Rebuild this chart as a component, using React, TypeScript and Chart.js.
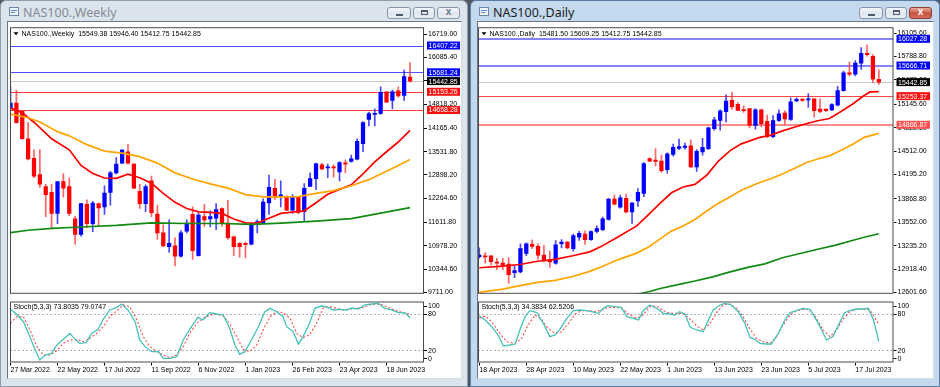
import React, { useEffect, useRef } from 'react';
import { Chart, registerables } from 'chart.js';

Chart.register(...registerables);

const FONT = "'Liberation Sans', Arial, sans-serif";
Chart.defaults.font.family = FONT;
Chart.defaults.font.size = 7;

// ---------------- Weekly data ----------------
const weeklyHeader = 'NAS100.,Weekly  15549.38 15946.40 15412.75 15442.85';
const weeklyStochHeader = 'Stoch(5,3,3) 73.8035 79.0747';
const weeklyOpen = [14714, 14846, 14626, 13879, 13351, 12911, 12586, 12428, 11856, 12718, 12586, 11707, 11285, 12102, 11575, 12120, 12032, 12428, 12955, 13219, 13527, 13193, 12454, 12120, 12736, 11839, 11329, 10951, 10977, 10696, 11372, 11830, 10713, 11768, 11707, 11724, 11988, 11593, 11223, 11047, 11047, 11021, 11548, 11593, 12137, 12533, 12322, 12322, 11944, 12296, 11900, 12586, 12797, 13175, 13087, 13114, 12982, 13219, 13263, 13325, 13747, 14406, 14538, 14564, 15154, 14916, 15180, 15057, 15549.38];
const weeklyHigh = [15285, 15198, 14652, 14318, 13588, 13588, 12647, 12647, 12718, 12938, 12823, 11786, 12120, 12226, 12181, 12137, 12604, 12999, 13369, 13588, 13729, 13210, 12647, 12630, 12867, 12076, 11548, 11681, 11197, 11390, 11681, 12032, 11856, 12102, 11926, 12120, 12006, 12208, 11241, 11065, 11082, 11593, 11681, 12252, 12894, 12779, 12736, 12340, 12366, 12313, 12665, 12955, 13219, 13219, 13193, 13175, 13263, 13307, 13439, 13879, 14345, 14600, 14688, 15285, 15154, 15198, 15285, 15743, 15946.4];
const weeklyLow = [14652, 14301, 13861, 13307, 12823, 12560, 11768, 11460, 11575, 12296, 11795, 11021, 11241, 11460, 11364, 11504, 11830, 12076, 12929, 13202, 13193, 12524, 11988, 11900, 11768, 11153, 10951, 10801, 10432, 10669, 11329, 10608, 10696, 11504, 11487, 11417, 11504, 11153, 10713, 10669, 10651, 11003, 11329, 11575, 11830, 12234, 12032, 11927, 11856, 11839, 11654, 12586, 12498, 13043, 12823, 12841, 12736, 12955, 13245, 13307, 13527, 14230, 14230, 14538, 14863, 14688, 15004, 14916, 15412.75];
const weeklyClose = [14846, 14318, 13879, 13333, 12867, 12647, 12366, 11856, 12718, 12542, 11856, 11285, 12120, 11575, 12137, 12006, 12410, 12955, 13193, 13571, 13219, 12542, 12120, 12586, 11874, 11329, 10977, 11047, 10696, 11329, 11593, 10845, 11812, 11681, 11768, 11962, 11593, 11197, 10951, 10951, 11012, 11548, 11636, 12164, 12560, 12296, 12357, 11944, 12322, 11883, 12533, 12797, 13202, 13061, 13114, 13087, 13237, 13193, 13333, 13808, 14318, 14564, 14564, 15136, 14872, 15154, 15039, 15567, 15442.85];
// moving averages as [bar index, value]
const weeklyMaFast: [number, number][] = [[0, 14714], [2, 14582], [4, 14327], [7, 13879], [10, 13580], [12, 13157], [14, 12938], [16, 12815], [18, 12806], [20, 12920], [22, 12823], [24, 12674], [26, 12401], [28, 12155], [30, 11988], [32, 11900], [34, 11882], [36, 11856], [38, 11706], [40, 11601], [42, 11592], [44, 11724], [46, 11856], [48, 11891], [50, 11926], [52, 12146], [54, 12375], [56, 12507], [58, 12630], [60, 12929], [62, 13254], [64, 13527], [66, 13791], [68, 14107]];
const weeklyMaMid: [number, number][] = [[0, 14547], [3, 14450], [5, 14336], [8, 14072], [10, 13958], [13, 13720], [16, 13544], [19, 13492], [22, 13395], [25, 13219], [28, 12955], [31, 12788], [34, 12656], [37, 12542], [40, 12366], [43, 12305], [46, 12305], [49, 12313], [52, 12401], [55, 12472], [58, 12604], [61, 12771], [64, 13000], [66, 13157], [68, 13316]];
const weeklyMaSlow: [number, number][] = [[0, 11337], [3, 11399], [7, 11452], [12, 11487], [18, 11531], [24, 11601], [30, 11583], [36, 11583], [41, 11557], [46, 11592], [52, 11645], [58, 11715], [63, 11865], [68, 12014]];
const weeklyBlueLevels = [16407.22, 15681.24];
const weeklyRedLevels = [15153.26, 14658.28];
const weeklyBid = 15442.85;
const weeklyPriceTicks = [16719.0, 16085.4, 15451.8, 14818.2, 14165.4, 13531.8, 12898.2, 12264.6, 11611.8, 10978.2, 10344.6, 9711.0];
const weeklyStochMain: [number, number][] = [[0, 87.2], [1, 79.5], [2.2, 66.9], [3.3, 42.4], [4.2, 20.5], [5, 4.1], [5.9, 12.3], [7, 15], [7.9, 28.7], [9, 38], [10.1, 47.8], [11, 38], [11.8, 31.4], [12.9, 32.5], [13.8, 47.8], [14.9, 54.4], [15.8, 70.8], [16.9, 86.1], [18.1, 90.4], [18.9, 95.9], [20, 86.1], [21.2, 67], [22, 36.9], [22.9, 26], [24, 17.8], [25.2, 17.8], [26, 6.8], [27.1, 6.8], [28.3, 9.6], [29.4, 36.9], [30.8, 58.7], [31.9, 74], [32.8, 69.7], [33.9, 81.7], [35.1, 79.5], [36.2, 77.9], [37.3, 56], [38.2, 28.7], [39, 13.4], [39.9, 17.8], [41, 36.9], [42.2, 58.7], [43.3, 83.3], [44.2, 88.8], [45.3, 83.3], [46.4, 75.1], [47, 58.7], [48.1, 50.5], [49, 30.3], [49.8, 42.4], [50.9, 64.2], [51.8, 88.8], [52.9, 92.6], [54.1, 90.4], [54.9, 86.1], [56.1, 87.2], [57.2, 86.1], [58, 89.3], [59.2, 87.7], [60.3, 94.3], [61.5, 95.9], [62.6, 97], [63.7, 88.8], [64.9, 86.1], [66, 81.7], [67.1, 81.7], [68, 73.8]];
const weeklyStochSignal: [number, number][] = [[0, 64.2], [1, 75.1], [2.2, 75.1], [3.3, 53.3], [4.5, 26], [5.6, 12.3], [6.7, 12.3], [7.9, 19.4], [9, 31.4], [10.1, 36.9], [11.3, 38], [12.4, 34.1], [13.5, 39.6], [14.7, 47.8], [15.8, 58.7], [16.9, 75.1], [18.1, 85], [19.2, 94.3], [20.3, 91.5], [21.5, 69.7], [22.6, 42.4], [23.7, 26], [24.9, 17.8], [26, 12.3], [27.1, 7.9], [28.3, 12.3], [29.4, 26], [30.5, 47.8], [31.7, 64.2], [32.8, 72.4], [33.9, 77.9], [35.1, 79.5], [36.2, 76.2], [37.3, 64.2], [38.5, 42.4], [39.6, 21.6], [40.7, 17.8], [41.9, 28.7], [43, 53.3], [44.2, 75.1], [45.3, 83.3], [46.4, 81.7], [47.6, 72.4], [48.7, 47.8], [49.8, 40.7], [50.9, 45.1], [52.1, 64.2], [53.2, 88.8], [54.4, 91.5], [55.5, 88.8], [56.6, 86.1], [57.8, 87.7], [58.9, 88.8], [60, 90.4], [61.2, 94.3], [62.3, 95.9], [63.4, 94.3], [64.6, 88.8], [65.7, 85], [66.8, 81.7], [68, 79.1]];
const weeklyDateIdx = [0, 8, 16, 24, 32, 40, 48, 56, 64];
const weeklyDateLabels = ['27 Mar 2022', '22 May 2022', '17 Jul 2022', '11 Sep 2022', '6 Nov 2022', '1 Jan 2023', '26 Feb 2023', '23 Apr 2023', '18 Jun 2023'];

// ---------------- Daily data ----------------
const dailyHeader = 'NAS100.,Daily  15481.50 15609.25 15412.75 15442.85';
const dailyStochHeader = 'Stoch(5,3,3) 34.3834 62.5206';
const dailyOpen = [13085, 13098, 13098, 13011, 12998, 12985, 12871, 12879, 13129, 13252, 13225, 13107, 13042, 12998, 13260, 13282, 13195, 13348, 13392, 13317, 13427, 13449, 13589, 13865, 13755, 13874, 13690, 13839, 13939, 14412, 14386, 14377, 14259, 14465, 14548, 14561, 14583, 14299, 14500, 14544, 14815, 14925, 15043, 15196, 15144, 15069, 15087, 14859, 15069, 14912, 14706, 14925, 15026, 14938, 15188, 15210, 15201, 15218, 15078, 15078, 15069, 15131, 15328, 15569, 15549, 15700, 15832, 15792, 15481.5];
const dailyHigh = [13204, 13142, 13098, 13064, 13064, 13072, 12954, 13260, 13274, 13313, 13260, 13239, 13160, 13304, 13317, 13291, 13392, 13427, 13436, 13436, 13501, 13620, 13874, 13918, 13918, 13931, 13821, 14005, 14355, 14421, 14544, 14456, 14487, 14605, 14675, 14618, 14662, 14531, 14684, 14837, 14969, 15069, 15271, 15306, 15166, 15122, 15087, 15087, 15078, 14999, 14991, 15069, 15056, 15232, 15232, 15218, 15288, 15218, 15218, 15078, 15153, 15385, 15591, 15713, 15735, 15910, 15946.4, 15814, 15609.25];
const dailyLow = [13064, 12998, 12976, 12910, 12910, 12726, 12801, 12866, 13098, 13195, 13055, 13020, 12941, 12985, 13204, 13195, 13160, 13304, 13252, 13304, 13405, 13436, 13580, 13786, 13742, 13677, 13536, 13764, 13896, 14369, 14312, 14224, 14215, 14443, 14531, 14539, 14290, 14237, 14456, 14531, 14794, 14794, 14903, 15078, 15056, 15034, 14824, 14807, 14837, 14693, 14693, 14912, 14868, 14925, 15179, 15183, 15100, 14969, 15026, 15043, 15056, 15122, 15319, 15525, 15525, 15613, 15792, 15437, 15412.75];
const dailyClose = [13107, 13081, 13020, 12998, 12967, 12844, 12897, 13195, 13260, 13225, 13107, 13028, 13015, 13247, 13282, 13204, 13370, 13401, 13317, 13423, 13466, 13598, 13865, 13795, 13882, 13690, 13808, 13953, 14342, 14377, 14373, 14246, 14474, 14561, 14574, 14579, 14299, 14509, 14561, 14824, 14934, 15056, 15188, 15113, 15061, 15056, 14859, 15069, 14881, 14706, 14925, 15013, 14947, 15175, 15210, 15196, 15210, 15056, 15048, 15056, 15139, 15328, 15569, 15551, 15700, 15832, 15814, 15481, 15442.85];
const dailyMaFast: [number, number][] = [[0, 12936], [4, 12958], [6.9, 12980], [9.9, 13024], [12.9, 13050], [15.9, 13098], [18.8, 13151], [20.8, 13225], [23.8, 13361], [26.8, 13501], [28.8, 13655], [30.8, 13808], [32.7, 13948], [34.7, 14027], [36.7, 14062], [38.7, 14185], [40.7, 14377], [42.7, 14518], [44.6, 14609], [47.6, 14693], [49.6, 14728], [51.6, 14785], [53.6, 14833], [55.6, 14881], [57.6, 14921], [59.6, 14951], [61.5, 15043], [63.5, 15144], [65.5, 15262], [66.5, 15310], [68, 15315]];
const dailyMaMid: [number, number][] = [[0, 12604], [4, 12647], [6.9, 12695], [9.9, 12739], [12.9, 12766], [15.9, 12818], [18.8, 12888], [20.8, 12949], [23.8, 13050], [26.8, 13134], [28.8, 13217], [30.8, 13326], [32.7, 13431], [34.7, 13501], [36.7, 13589], [38.7, 13703], [40.7, 13808], [42.7, 13896], [44.6, 13983], [47.6, 14084], [49.6, 14137], [51.6, 14202], [53.6, 14277], [55.6, 14355], [57.6, 14404], [59.6, 14447], [61.5, 14518], [63.5, 14601], [65.5, 14697], [68, 14750]];
const dailyMaSlow: [number, number][] = [[26.8, 12573], [28.8, 12612], [30.8, 12656], [33.8, 12709], [36.7, 12757], [39.7, 12814], [42.7, 12880], [45.7, 12941], [48.6, 12989], [51.6, 13072], [54.6, 13129], [57.6, 13186], [60.5, 13239], [63.5, 13304], [65.5, 13348], [68, 13395]];
const dailyBlueLevels = [16027.28, 15666.71];
const dailyRedLevels = [15253.37, 14866.87];
const dailyBid = 15442.85;
const dailyPriceTicks = [16105.6, 15788.8, 15472.0, 15145.6, 14828.8, 14512.0, 14195.2, 13868.8, 13552.0, 13235.2, 12918.4, 12601.6];
const dailyStochMain: [number, number][] = [[0, 76.2], [1, 69.7], [2.1, 58.7], [3.2, 45.1], [4.1, 27], [5.2, 28.7], [6.1, 30.3], [6.9, 53.3], [7.8, 75.1], [8.6, 85], [9.8, 81.7], [10.9, 64.2], [12, 42.4], [12.9, 45.1], [13.7, 54.4], [14.9, 72.4], [16, 85], [17.1, 86.1], [18.3, 85], [19.1, 83.3], [20.3, 80.6], [21.1, 88.8], [21.9, 93.2], [23.1, 91.5], [24.2, 90.4], [25.1, 75.1], [26.2, 72.4], [27.1, 69.7], [27.9, 85], [29, 94.3], [30.2, 88.8], [31.3, 80.6], [32.4, 79.5], [33.3, 77.9], [34.1, 83.3], [35, 79.5], [35.9, 57.7], [37, 53.3], [38.1, 50.5], [39, 69.7], [39.8, 86.1], [41, 94.3], [41.8, 97], [42.9, 94.3], [44.1, 83.3], [45.2, 64.2], [46.1, 40.7], [46.9, 38], [47.8, 31.4], [48.9, 30.3], [49.7, 30.3], [50.9, 47.8], [52, 69.7], [52.9, 81.7], [54, 85], [55.1, 88.8], [56.3, 87.2], [57.7, 64.2], [59.1, 36.9], [60.2, 42.4], [61.4, 66.9], [62.2, 81.7], [63.1, 85], [64.2, 87.7], [65.4, 87.7], [66.2, 88.8], [67.1, 69.7], [68, 34.4]];
const dailyStochSignal: [number, number][] = [[0, 72.4], [1, 76.2], [2.1, 66.9], [3.5, 47.8], [4.7, 34.1], [6.1, 31.4], [7.2, 39.6], [8.3, 61.5], [9.5, 77.9], [10.6, 70.8], [11.7, 56], [12.9, 47.8], [14, 50.5], [15.2, 64.2], [16.3, 79.5], [17.4, 85], [18.6, 85], [19.7, 83.3], [20.8, 86.1], [21.9, 90.4], [23.4, 90.4], [24.5, 87.2], [25.6, 77.9], [26.8, 72.4], [27.9, 77.9], [29, 91.5], [30.2, 92.6], [31.3, 85], [32.4, 80.6], [33.6, 80.6], [34.7, 80.6], [35.9, 70.8], [37, 59.8], [38.1, 53.3], [39.3, 64.2], [40.4, 81.7], [41.5, 94.3], [42.7, 95.9], [43.8, 88.8], [44.9, 75.1], [46.1, 54.4], [47.2, 39.6], [48.3, 34.1], [49.5, 31.4], [50.6, 42.4], [51.7, 61.5], [52.9, 77.9], [54, 85], [55.1, 87.2], [56.3, 86.1], [57.4, 72.4], [58.5, 53.3], [59.7, 42.4], [60.8, 53.3], [61.9, 70.8], [63.1, 83.3], [64.2, 87.7], [65.4, 87.2], [66.5, 86.1], [68, 62.5]];
const dailyDateIdx = [0, 8, 16, 24, 32, 40, 48, 56, 64];
const dailyDateLabels = ['18 Apr 2023', '28 Apr 2023', '10 May 2023', '22 May 2023', '1 Jun 2023', '13 Jun 2023', '23 Jun 2023', '5 Jul 2023', '17 Jul 2023'];

const stochLevels = [100, 80, 20, 0];
const stochDotted = [80, 20];

// ---------------- chart builders ----------------
type Level = { value: number; line: string; width: number; box: string };

const toPoints = (pairs: [number, number][]) => pairs.map(([x, y]) => ({ x, y }));

function mainPlugin(levels: Level[], header: string) {
  return {
    id: 'mt4main',
    beforeDatasetsDraw(chart: any) {
      const { ctx, chartArea: a } = chart;
      const y = chart.scales.y;
      ctx.save();
      ctx.beginPath();
      ctx.rect(a.left, a.top, a.right - a.left, a.bottom - a.top);
      ctx.clip();
      for (const L of levels) {
        const py = Math.round(y.getPixelForValue(L.value)) + (L.width % 2 ? 0.5 : 0);
        ctx.strokeStyle = L.line;
        ctx.lineWidth = L.width;
        ctx.beginPath();
        ctx.moveTo(a.left, py);
        ctx.lineTo(a.right, py);
        ctx.stroke();
      }
      ctx.restore();
    },
    afterDraw(chart: any) {
      const { ctx, chartArea: a, width } = chart;
      const y = chart.scales.y;
      ctx.save();
      ctx.strokeStyle = '#4a4a4a';
      ctx.lineWidth = 1;
      ctx.strokeRect(a.left + 0.5, a.top + 0.5, a.right - a.left - 1, a.bottom - a.top - 1);
      ctx.fillStyle = '#000';
      ctx.beginPath();
      ctx.moveTo(a.left + 3.5, a.top + 5);
      ctx.lineTo(a.left + 8.5, a.top + 5);
      ctx.lineTo(a.left + 6, a.top + 8);
      ctx.closePath();
      ctx.fill();
      ctx.font = `7px ${FONT}`;
      ctx.textBaseline = 'middle';
      ctx.textAlign = 'left';
      ctx.fillText(header, a.left + 11.5, a.top + 6.5);
      for (const L of levels) {
        const py = y.getPixelForValue(L.value);
        const bx = a.right + 3;
        const bw = width - bx - 1;
        ctx.fillStyle = L.box;
        ctx.fillRect(bx, py - 4, bw, 8);
        ctx.fillStyle = '#fff';
        ctx.fillText(L.value.toFixed(2), bx + 1.5, py + 0.5);
      }
      ctx.restore();
    },
  };
}

function makeMain(canvas: HTMLCanvasElement, o: any) {
  const idx = o.open.map((_: number, i: number) => i);
  const up = idx.map((i: number) => o.close[i] >= o.open[i]);
  return new Chart(canvas, {
    type: 'bar',
    data: {
      datasets: [
        ...o.mas.map((m: any) => ({
          type: 'line',
          data: toPoints(m.pairs),
          borderColor: m.color,
          borderWidth: 1.7,
          pointRadius: 0,
          tension: 0,
          order: 0,
        })),
        {
          type: 'bar',
          data: idx.map((i: number) => ({ x: i, y: [o.low[i], o.high[i]] })),
          backgroundColor: idx.map((i: number) => (up[i] ? 'rgba(40,40,255,0.85)' : 'rgba(255,60,60,0.8)')),
          barThickness: 1,
          grouped: false,
          order: 2,
        },
        {
          type: 'bar',
          data: idx.map((i: number) => ({ x: i, y: [o.open[i], o.close[i]] })),
          backgroundColor: idx.map((i: number) => (up[i] ? '#0000ff' : '#ff0000')),
          barThickness: 3.6,
          minBarLength: 1.2,
          grouped: false,
          order: 1,
        },
      ],
    },
    options: {
      responsive: false,
      animation: false,
      events: [],
      layout: { padding: { left: 1, top: 2, bottom: 1, right: 0 } },
      plugins: { legend: { display: false }, tooltip: { enabled: false } },
      scales: {
        x: { type: 'linear', min: o.xMin, max: o.xMax, display: false, offset: false },
        y: {
          type: 'linear',
          position: 'right',
          min: o.yMin,
          max: o.yMax,
          beginAtZero: false,
          grid: { display: true, drawOnChartArea: false, drawTicks: true, tickLength: 3, color: '#000' },
          border: { display: false },
          ticks: { color: '#000', padding: 1, autoSkip: false, font: { size: 7 }, callback: (v: any) => Number(v).toFixed(2) },
          afterBuildTicks: (s: any) => {
            s.ticks = o.ticks.map((v: number) => ({ value: v }));
          },
          afterFit: (s: any) => {
            s.width = o.axisW;
          },
        },
      },
    } as any,
    plugins: [mainPlugin(o.levels, o.header)],
  } as any);
}

function stochPlugin(header: string) {
  return {
    id: 'mt4stoch',
    beforeDatasetsDraw(chart: any) {
      const { ctx, chartArea: a } = chart;
      const y = chart.scales.y;
      ctx.save();
      ctx.strokeStyle = '#b4b4b4';
      ctx.lineWidth = 1;
      ctx.setLineDash([2, 2]);
      for (const v of stochDotted) {
        const py = Math.round(y.getPixelForValue(v)) + 0.5;
        ctx.beginPath();
        ctx.moveTo(a.left, py);
        ctx.lineTo(a.right, py);
        ctx.stroke();
      }
      ctx.restore();
    },
    afterDraw(chart: any) {
      const { ctx, chartArea: a } = chart;
      const y = chart.scales.y;
      ctx.save();
      ctx.strokeStyle = '#4a4a4a';
      ctx.lineWidth = 1;
      ctx.strokeRect(a.left + 0.5, a.top + 0.5, a.right - a.left - 1, a.bottom - a.top - 1);
      ctx.fillStyle = '#000';
      ctx.font = `7px ${FONT}`;
      ctx.textBaseline = 'middle';
      ctx.textAlign = 'left';
      ctx.fillText(header, a.left + 3.5, a.top + 5.5);
      for (const v of stochLevels) {
        const py = Math.min(Math.max(y.getPixelForValue(v), a.top + 4.2), a.bottom - 4.2);
        ctx.fillRect(a.right, Math.round(py), 3, 1);
        ctx.fillText(String(v), a.right + 4, py + 0.5);
      }
      ctx.restore();
    },
  };
}

function makeStoch(canvas: HTMLCanvasElement, o: any) {
  return new Chart(canvas, {
    type: 'line',
    data: {
      datasets: [
        { data: toPoints(o.main), borderColor: '#45c2b8', borderWidth: 1.3, pointRadius: 0, tension: 0 },
        { data: toPoints(o.signal), borderColor: 'rgba(255,40,40,0.85)', borderWidth: 1.1, borderDash: [2, 2], pointRadius: 0, tension: 0 },
      ],
    },
    options: {
      responsive: false,
      animation: false,
      events: [],
      layout: { padding: { left: 1, top: 2.5, right: o.axisW, bottom: 0 } },
      plugins: { legend: { display: false }, tooltip: { enabled: false } },
      scales: {
        x: {
          type: 'linear',
          min: o.xMin,
          max: o.xMax,
          offset: false,
          border: { display: false },
          grid: { display: true, drawOnChartArea: false, drawTicks: true, tickLength: 3, color: '#000' },
          ticks: {
            align: 'start',
            maxRotation: 0,
            autoSkip: false,
            padding: 0,
            color: '#000',
            font: { size: 7 },
            callback: (v: any) => {
              const k = o.dateIdx.indexOf(Math.round(Number(v)));
              return k >= 0 ? o.dateLabels[k] : '';
            },
          },
          afterBuildTicks: (s: any) => {
            s.ticks = o.dateIdx.map((v: number) => ({ value: v }));
          },
          afterFit: (s: any) => {
            s.height = 24.5;
          },
        },
        y: { type: 'linear', min: 0, max: 100, display: false },
      },
    } as any,
    plugins: [stochPlugin(o.header)],
  } as any);
}

function buildLevels(blue: number[], red: number[], bid: number, blueW: number[], redW: number[], blueLine: string[], redLine: string[], redBox: string[]): Level[] {
  return [
    ...blue.map((v, k) => ({ value: v, line: blueLine[k], width: blueW[k], box: '#0000ff' })),
    ...red.map((v, k) => ({ value: v, line: redLine[k], width: redW[k], box: redBox[k] })),
    { value: bid, line: '#c8c8c8', width: 1, box: '#000000' },
  ];
}

// ---------------- window chrome ----------------
function Btn({ left, kind, active }: { left: number; kind: string; active: boolean }) {
  const red = kind === 'close' && active;
  return (
    <div
      style={{
        position: 'absolute',
        left,
        top: 6,
        width: kind === 'close' ? 23 : kind === 'min' ? 24 : 22,
        height: 12,
        boxSizing: 'border-box',
        border: `1px solid ${red ? '#8d3a31' : '#8796ab'}`,
        borderRadius: 3,
        background: red ? 'linear-gradient(#e9a99c, #c8523e 55%, #d27060)' : 'linear-gradient(#f4f7fb, #dfe6ef 55%, #e8edf4)',
      }}
    >
      {kind === 'min' && <div style={{ position: 'absolute', left: 8, top: 6, width: 7, height: 2, background: '#4d5b70' }} />}
      {kind === 'max' && <div style={{ position: 'absolute', left: 7, top: 2, width: 7, height: 5, boxSizing: 'border-box', border: '1px solid #4d5b70', borderTopWidth: 2 }} />}
      {kind === 'close' && (
        <div style={{ position: 'absolute', left: 0, top: -2, width: 21, textAlign: 'center', fontSize: 10, fontWeight: 'bold', color: red ? '#fff' : '#6c7686', fontFamily: FONT }}>
          x
        </div>
      )}
    </div>
  );
}

function Win({ left, width, title, active, clientW }: { left: number; width: number; title: string; active: boolean; clientW: number }) {
  return (
    <div
      style={{
        position: 'absolute',
        left,
        top: 0,
        width,
        height: 387,
        boxSizing: 'border-box',
        background: active ? '#c4d8ee' : '#dbe3ec',
        border: `1px solid ${active ? '#5b7ea8' : '#8f9cab'}`,
        borderRadius: '6px 6px 0 0',
      }}
    >
      <div style={{ position: 'absolute', left: 8, top: 6, width: 10, height: 9, boxSizing: 'border-box', border: '1px solid #6f87aa', background: '#eef4fb' }}>
        <div style={{ position: 'absolute', left: 1, top: 2, width: 6, height: 1, background: '#5d86c8' }} />
        <div style={{ position: 'absolute', left: 1, top: 4, width: 4, height: 1, background: '#5d86c8' }} />
      </div>
      <div style={{ position: 'absolute', left: 22, top: 5, fontSize: 12.5, lineHeight: '14px', color: active ? '#1e1e1e' : '#858b93', fontFamily: "'Noto Sans', sans-serif", whiteSpace: 'nowrap' }}>
        {title}
      </div>
      <Btn left={width - 82} kind="min" active={active} />
      <Btn left={width - 56} kind="max" active={active} />
      <Btn left={width - 32} kind="close" active={active} />
      <div
        style={{
          position: 'absolute',
          left: 6,
          top: 20,
          width: clientW,
          height: 358,
          boxSizing: 'border-box',
          background: '#ffffff',
          borderTop: '1px solid #6e7681',
          borderLeft: '1px solid #6e7681',
          borderRight: '1px solid #d5dde7',
          borderBottom: '1px solid #d5dde7',
        }}
      />
    </div>
  );
}

export default function App() {
  const wMain = useRef<HTMLCanvasElement>(null);
  const wStoch = useRef<HTMLCanvasElement>(null);
  const dMain = useRef<HTMLCanvasElement>(null);
  const dStoch = useRef<HTMLCanvasElement>(null);

  useEffect(() => {
    const wx = { xMin: -0.085, xMax: 70.38 };
    const dx = { xMin: -0.22, xMax: 70.5 };
    const charts = [
      makeMain(wMain.current!, {
        open: weeklyOpen, high: weeklyHigh, low: weeklyLow, close: weeklyClose,
        mas: [
          { pairs: weeklyMaSlow, color: '#118a11' },
          { pairs: weeklyMaMid, color: '#ffa500' },
          { pairs: weeklyMaFast, color: '#ff0000' },
        ],
        levels: buildLevels(weeklyBlueLevels, weeklyRedLevels, weeklyBid, [1, 1], [1, 1], ['#4f4fff', '#4f4fff'], ['#ff3535', '#ff3535'], ['#ff1010', '#ff1010']),
        ticks: weeklyPriceTicks, yMin: 9676.7, yMax: 16903.6, ...wx, axisW: 37, header: weeklyHeader,
      }),
      makeStoch(wStoch.current!, {
        main: weeklyStochMain, signal: weeklyStochSignal, dateIdx: weeklyDateIdx, dateLabels: weeklyDateLabels,
        ...wx, axisW: 37, header: weeklyStochHeader,
      }),
      makeMain(dMain.current!, {
        open: dailyOpen, high: dailyHigh, low: dailyLow, close: dailyClose,
        mas: [
          { pairs: dailyMaSlow, color: '#118a11' },
          { pairs: dailyMaMid, color: '#ffa500' },
          { pairs: dailyMaFast, color: '#ff0000' },
        ],
        levels: buildLevels(dailyBlueLevels, dailyRedLevels, dailyBid, [2, 2], [1, 2], ['#8585ff', '#8585ff'], ['#ff4545', '#ff8a8a'], ['#ff1010', '#ff5050']),
        ticks: dailyPriceTicks, yMin: 12584.5, yMax: 16184.4, ...dx, axisW: 37.5, header: dailyHeader,
      }),
      makeStoch(dStoch.current!, {
        main: dailyStochMain, signal: dailyStochSignal, dateIdx: dailyDateIdx, dateLabels: dailyDateLabels,
        ...dx, axisW: 37.5, header: dailyStochHeader,
      }),
    ];
    return () => charts.forEach((c) => c.destroy());
  }, []);

  return (
    <div style={{ position: 'fixed', left: 0, top: 0, width: 940, height: 387, overflow: 'hidden', background: '#4f5762' }}>
      <Win left={0} width={468} title="NAS100.,Weekly" active={false} clientW={455} />
      <Win left={470} width={470} title="NAS100.,Daily" active={true} clientW={457} />
      <canvas ref={wMain} width={452} height={277} style={{ position: 'absolute', left: 9, top: 22 }} />
      <canvas ref={wStoch} width={452} height={88} style={{ position: 'absolute', left: 9, top: 299 }} />
      <canvas ref={dMain} width={454} height={277} style={{ position: 'absolute', left: 477, top: 22 }} />
      <canvas ref={dStoch} width={454} height={88} style={{ position: 'absolute', left: 477, top: 299 }} />
    </div>
  );
}
